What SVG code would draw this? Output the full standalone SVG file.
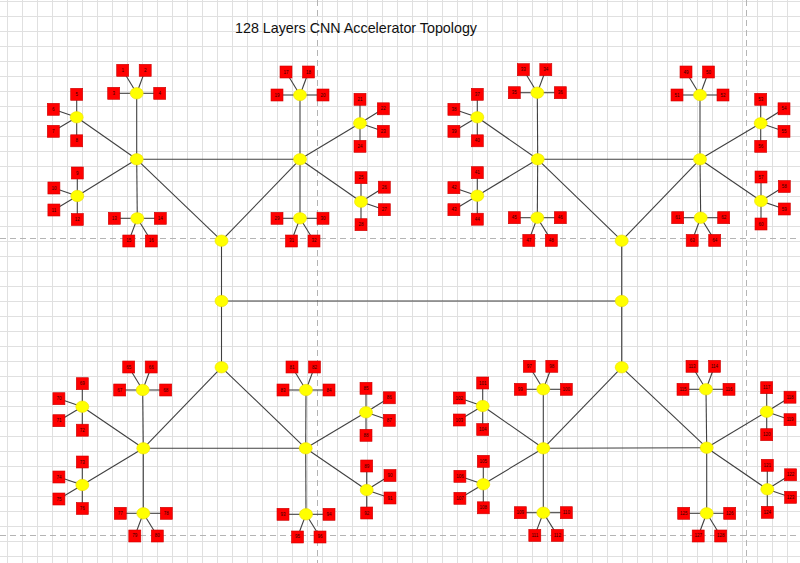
<svg xmlns="http://www.w3.org/2000/svg" xmlns:xlink="http://www.w3.org/1999/xlink" width="800" height="563" viewBox="0 0 800 563">
<style>
.y{fill:#ffff00;stroke:#eedd00;stroke-width:0.6}
.r{fill:#ff0000;stroke:#cc0000;stroke-width:0.6}
text.n{font-family:"Liberation Sans",Arial,sans-serif;font-size:4.5px;text-anchor:middle;fill:#330000}
.ln line{stroke:#404040;stroke-width:1.1;fill:none}
.pg{stroke:#b4b4b4;stroke-width:1;stroke-dasharray:6 4}
</style>
<defs>
<pattern id="grid" width="15" height="15" patternUnits="userSpaceOnUse" x="7" y="1">
<path d="M0.5 0 V15 M0 0.5 H15" stroke="#e0e0e0" stroke-width="1" fill="none"/>
</pattern>
<g id="spT" stroke="#404040" stroke-width="1.1"><line x2="-14" y2="-23"/><line x2="8.5" y2="-23"/><line x2="-23" y2="0"/><line x2="23" y2="0"/></g>
<g id="spB" stroke="#404040" stroke-width="1.1"><line x2="-23" y2="0"/><line x2="23" y2="0"/><line x2="-8.5" y2="22.7"/><line x2="14" y2="22.7"/></g>
<g id="spL" stroke="#404040" stroke-width="1.1"><line x2="0" y2="-23"/><line x2="-23.4" y2="-8"/><line x2="-23.4" y2="14"/><line x2="0" y2="23.5"/></g>
<g id="spR" stroke="#404040" stroke-width="1.1"><line x2="0" y2="-24"/><line x2="23.3" y2="-14.5"/><line x2="23.3" y2="8"/><line x2="0" y2="23"/></g>
</defs>
<rect width="800" height="563" fill="#ffffff"/>
<rect width="800" height="563" fill="url(#grid)"/>
<g id="page-breaks">
<line class="pg" x1="317.5" y1="0" x2="317.5" y2="563"/>
<line class="pg" x1="746.5" y1="0" x2="746.5" y2="563"/>
<line class="pg" x1="0" y1="238.5" x2="800" y2="238.5"/>
<line class="pg" x1="0" y1="535.5" x2="800" y2="535.5"/>
</g>
<text id="title" x="235" y="33" font-family="Liberation Sans, Arial, sans-serif" font-size="15" fill="#111" textLength="242" lengthAdjust="spacingAndGlyphs">128 Layers CNN Accelerator Topology</text>

<g id="connectors" class="ln">
<line x1="221.5" y1="240.7" x2="221.5" y2="367.3"/>
<line x1="621.7" y1="240.7" x2="621.7" y2="367.3"/>
<line x1="221.5" y1="301" x2="621.7" y2="301"/>
<line x1="136.7" y1="159.3" x2="300" y2="159.3"/>
<line x1="136.7" y1="159.3" x2="221.5" y2="240.7"/>
<line x1="300" y1="159.3" x2="221.5" y2="240.7"/>
<line x1="537.7" y1="159.3" x2="700" y2="159.3"/>
<line x1="537.7" y1="159.3" x2="621.7" y2="240.7"/>
<line x1="700" y1="159.3" x2="621.7" y2="240.7"/>
<line x1="143.3" y1="448.3" x2="305.7" y2="448.3"/>
<line x1="221.5" y1="367.3" x2="143.3" y2="448.3"/>
<line x1="221.5" y1="367.3" x2="305.7" y2="448.3"/>
<line x1="543.3" y1="448.3" x2="706.7" y2="447.7"/>
<line x1="621.7" y1="367.3" x2="543.3" y2="448.3"/>
<line x1="621.7" y1="367.3" x2="706.7" y2="447.7"/>
<line x1="136.7" y1="159.3" x2="136.7" y2="93.3"/><line x1="136.7" y1="159.3" x2="137.3" y2="218.3"/><line x1="136.7" y1="159.3" x2="76.7" y2="117.3"/><line x1="136.7" y1="159.3" x2="77.3" y2="196"/>
<line x1="300" y1="159.3" x2="300" y2="95"/><line x1="300" y1="159.3" x2="300" y2="218.3"/><line x1="300" y1="159.3" x2="360" y2="123.3"/><line x1="300" y1="159.3" x2="361" y2="201.7"/>
<line x1="537.7" y1="159.3" x2="537.3" y2="92.7"/><line x1="537.7" y1="159.3" x2="537.3" y2="217.7"/><line x1="537.7" y1="159.3" x2="477.3" y2="117.3"/><line x1="537.7" y1="159.3" x2="477.3" y2="195.7"/>
<line x1="700" y1="159.3" x2="700" y2="95"/><line x1="700" y1="159.3" x2="700.7" y2="217.7"/><line x1="700" y1="159.3" x2="760.7" y2="123.3"/><line x1="700" y1="159.3" x2="761" y2="201"/>
<line x1="143.3" y1="448.3" x2="142.7" y2="390"/><line x1="143.3" y1="448.3" x2="143.3" y2="513.3"/><line x1="143.3" y1="448.3" x2="82.3" y2="406.7"/><line x1="143.3" y1="448.3" x2="82.3" y2="485"/>
<line x1="305.7" y1="448.3" x2="306" y2="390"/><line x1="305.7" y1="448.3" x2="306" y2="514.3"/><line x1="305.7" y1="448.3" x2="366" y2="412.3"/><line x1="305.7" y1="448.3" x2="366.7" y2="490"/>
<line x1="543.3" y1="448.3" x2="543.3" y2="389.3"/><line x1="543.3" y1="448.3" x2="543.3" y2="512.7"/><line x1="543.3" y1="448.3" x2="482.7" y2="406"/><line x1="543.3" y1="448.3" x2="483.3" y2="484.3"/>
<line x1="706.7" y1="447.7" x2="706" y2="389.3"/><line x1="706.7" y1="447.7" x2="706.7" y2="513.3"/><line x1="706.7" y1="447.7" x2="766.7" y2="411.7"/><line x1="706.7" y1="447.7" x2="767.3" y2="489.3"/>
<use xlink:href="#spT" href="#spT" x="136.7" y="93.3"/><use xlink:href="#spL" href="#spL" x="76.7" y="117.3"/><use xlink:href="#spL" href="#spL" x="77.3" y="196"/><use xlink:href="#spB" href="#spB" x="137.3" y="218.3"/>
<use xlink:href="#spT" href="#spT" x="300" y="95"/><use xlink:href="#spR" href="#spR" x="360" y="123.3"/><use xlink:href="#spR" href="#spR" x="361" y="201.7"/><use xlink:href="#spB" href="#spB" x="300" y="218.3"/>
<use xlink:href="#spT" href="#spT" x="537.3" y="92.7"/><use xlink:href="#spL" href="#spL" x="477.3" y="117.3"/><use xlink:href="#spL" href="#spL" x="477.3" y="195.7"/><use xlink:href="#spB" href="#spB" x="537.3" y="217.7"/>
<use xlink:href="#spT" href="#spT" x="700" y="95"/><use xlink:href="#spR" href="#spR" x="760.7" y="123.3"/><use xlink:href="#spR" href="#spR" x="761" y="201"/><use xlink:href="#spB" href="#spB" x="700.7" y="217.7"/>
<use xlink:href="#spT" href="#spT" x="142.7" y="390"/><use xlink:href="#spL" href="#spL" x="82.3" y="406.7"/><use xlink:href="#spL" href="#spL" x="82.3" y="485"/><use xlink:href="#spB" href="#spB" x="143.3" y="513.3"/>
<use xlink:href="#spT" href="#spT" x="306" y="390"/><use xlink:href="#spR" href="#spR" x="366" y="412.3"/><use xlink:href="#spR" href="#spR" x="366.7" y="490"/><use xlink:href="#spB" href="#spB" x="306" y="514.3"/>
<use xlink:href="#spT" href="#spT" x="543.3" y="389.3"/><use xlink:href="#spL" href="#spL" x="482.7" y="406"/><use xlink:href="#spL" href="#spL" x="483.3" y="484.3"/><use xlink:href="#spB" href="#spB" x="543.3" y="512.7"/>
<use xlink:href="#spT" href="#spT" x="706" y="389.3"/><use xlink:href="#spR" href="#spR" x="766.7" y="411.7"/><use xlink:href="#spR" href="#spR" x="767.3" y="489.3"/><use xlink:href="#spB" href="#spB" x="706.7" y="513.3"/>
</g>

<g id="nodes">
<g id="c1"><ellipse class="y" cx="221.5" cy="240.7" rx="6.5" ry="5.7"/></g>
<g id="c2"><ellipse class="y" cx="221.5" cy="301" rx="6.5" ry="5.7"/></g>
<g id="c3"><ellipse class="y" cx="221.5" cy="367.3" rx="6.5" ry="5.7"/></g>
<g id="c4"><ellipse class="y" cx="621.7" cy="240.7" rx="6.5" ry="5.7"/></g>
<g id="c5"><ellipse class="y" cx="621.7" cy="301" rx="6.5" ry="5.7"/></g>
<g id="c6"><ellipse class="y" cx="621.7" cy="367.3" rx="6.5" ry="5.7"/></g>
<g id="h1"><ellipse class="y" cx="136.7" cy="159.3" rx="6.5" ry="5.7"/></g>
<g id="h2"><ellipse class="y" cx="300" cy="159.3" rx="6.5" ry="5.7"/></g>
<g id="h3"><ellipse class="y" cx="537.7" cy="159.3" rx="6.5" ry="5.7"/></g>
<g id="h4"><ellipse class="y" cx="700" cy="159.3" rx="6.5" ry="5.7"/></g>
<g id="h5"><ellipse class="y" cx="143.3" cy="448.3" rx="6.5" ry="5.7"/></g>
<g id="h6"><ellipse class="y" cx="305.7" cy="448.3" rx="6.5" ry="5.7"/></g>
<g id="h7"><ellipse class="y" cx="543.3" cy="448.3" rx="6.5" ry="5.7"/></g>
<g id="h8"><ellipse class="y" cx="706.7" cy="447.7" rx="6.5" ry="5.7"/></g>

<!-- cluster 1 -->
<g id="h1t" transform="translate(136.7,93.3)"><ellipse class="y" rx="6.5" ry="5.7"/>
<g id="L1"><rect class="r" x="-20" y="-29" width="12" height="12"/><text class="n" x="-14" y="-21.5">1</text></g>
<g id="L2"><rect class="r" x="2.5" y="-29" width="12" height="12"/><text class="n" x="8.5" y="-21.5">2</text></g>
<g id="L3"><rect class="r" x="-29" y="-6" width="12" height="12"/><text class="n" x="-23" y="1.5">3</text></g>
<g id="L4"><rect class="r" x="17" y="-6" width="12" height="12"/><text class="n" x="23" y="1.5">4</text></g></g>
<g id="h1u" transform="translate(76.7,117.3)"><ellipse class="y" rx="6.5" ry="5.7"/>
<g id="L5"><rect class="r" x="-6" y="-29" width="12" height="12"/><text class="n" x="0" y="-21.5">5</text></g>
<g id="L6"><rect class="r" x="-29.4" y="-14" width="12" height="12"/><text class="n" x="-23.4" y="-6.5">6</text></g>
<g id="L7"><rect class="r" x="-29.4" y="8" width="12" height="12"/><text class="n" x="-23.4" y="15.5">7</text></g>
<g id="L8"><rect class="r" x="-6" y="17.5" width="12" height="12"/><text class="n" x="0" y="25">8</text></g></g>
<g id="h1l" transform="translate(77.3,196)"><ellipse class="y" rx="6.5" ry="5.7"/>
<g id="L9"><rect class="r" x="-6" y="-29" width="12" height="12"/><text class="n" x="0" y="-21.5">9</text></g>
<g id="L10"><rect class="r" x="-29.4" y="-14" width="12" height="12"/><text class="n" x="-23.4" y="-6.5">10</text></g>
<g id="L11"><rect class="r" x="-29.4" y="8" width="12" height="12"/><text class="n" x="-23.4" y="15.5">11</text></g>
<g id="L12"><rect class="r" x="-6" y="17.5" width="12" height="12"/><text class="n" x="0" y="25">12</text></g></g>
<g id="h1b" transform="translate(137.3,218.3)"><ellipse class="y" rx="6.5" ry="5.7"/>
<g id="L13"><rect class="r" x="-29" y="-6" width="12" height="12"/><text class="n" x="-23" y="1.5">13</text></g>
<g id="L14"><rect class="r" x="17" y="-6" width="12" height="12"/><text class="n" x="23" y="1.5">14</text></g>
<g id="L15"><rect class="r" x="-14.5" y="16.7" width="12" height="12"/><text class="n" x="-8.5" y="24.2">15</text></g>
<g id="L16"><rect class="r" x="8" y="16.7" width="12" height="12"/><text class="n" x="14" y="24.2">16</text></g></g>

<!-- cluster 2 -->
<g id="h2t" transform="translate(300,95)"><ellipse class="y" rx="6.5" ry="5.7"/>
<g id="L17"><rect class="r" x="-20" y="-29" width="12" height="12"/><text class="n" x="-14" y="-21.5">17</text></g>
<g id="L18"><rect class="r" x="2.5" y="-29" width="12" height="12"/><text class="n" x="8.5" y="-21.5">18</text></g>
<g id="L19"><rect class="r" x="-29" y="-6" width="12" height="12"/><text class="n" x="-23" y="1.5">19</text></g>
<g id="L20"><rect class="r" x="17" y="-6" width="12" height="12"/><text class="n" x="23" y="1.5">20</text></g></g>
<g id="h2u" transform="translate(360,123.3)"><ellipse class="y" rx="6.5" ry="5.7"/>
<g id="L21"><rect class="r" x="-6" y="-30" width="12" height="12"/><text class="n" x="0" y="-22.5">21</text></g>
<g id="L22"><rect class="r" x="17.3" y="-20.5" width="12" height="12"/><text class="n" x="23.3" y="-13">22</text></g>
<g id="L23"><rect class="r" x="17.3" y="2" width="12" height="12"/><text class="n" x="23.3" y="9.5">23</text></g>
<g id="L24"><rect class="r" x="-6" y="17" width="12" height="12"/><text class="n" x="0" y="24.5">24</text></g></g>
<g id="h2l" transform="translate(361,201.7)"><ellipse class="y" rx="6.5" ry="5.7"/>
<g id="L25"><rect class="r" x="-6" y="-30" width="12" height="12"/><text class="n" x="0" y="-22.5">25</text></g>
<g id="L26"><rect class="r" x="17.3" y="-20.5" width="12" height="12"/><text class="n" x="23.3" y="-13">26</text></g>
<g id="L27"><rect class="r" x="17.3" y="2" width="12" height="12"/><text class="n" x="23.3" y="9.5">27</text></g>
<g id="L28"><rect class="r" x="-6" y="17" width="12" height="12"/><text class="n" x="0" y="24.5">28</text></g></g>
<g id="h2b" transform="translate(300,218.3)"><ellipse class="y" rx="6.5" ry="5.7"/>
<g id="L29"><rect class="r" x="-29" y="-6" width="12" height="12"/><text class="n" x="-23" y="1.5">29</text></g>
<g id="L30"><rect class="r" x="17" y="-6" width="12" height="12"/><text class="n" x="23" y="1.5">30</text></g>
<g id="L31"><rect class="r" x="-14.5" y="16.7" width="12" height="12"/><text class="n" x="-8.5" y="24.2">31</text></g>
<g id="L32"><rect class="r" x="8" y="16.7" width="12" height="12"/><text class="n" x="14" y="24.2">32</text></g></g>

<!-- cluster 3 -->
<g id="h3t" transform="translate(537.3,92.7)"><ellipse class="y" rx="6.5" ry="5.7"/>
<g id="L33"><rect class="r" x="-20" y="-29" width="12" height="12"/><text class="n" x="-14" y="-21.5">33</text></g>
<g id="L34"><rect class="r" x="2.5" y="-29" width="12" height="12"/><text class="n" x="8.5" y="-21.5">34</text></g>
<g id="L35"><rect class="r" x="-29" y="-6" width="12" height="12"/><text class="n" x="-23" y="1.5">35</text></g>
<g id="L36"><rect class="r" x="17" y="-6" width="12" height="12"/><text class="n" x="23" y="1.5">36</text></g></g>
<g id="h3u" transform="translate(477.3,117.3)"><ellipse class="y" rx="6.5" ry="5.7"/>
<g id="L37"><rect class="r" x="-6" y="-29" width="12" height="12"/><text class="n" x="0" y="-21.5">37</text></g>
<g id="L38"><rect class="r" x="-29.4" y="-14" width="12" height="12"/><text class="n" x="-23.4" y="-6.5">38</text></g>
<g id="L39"><rect class="r" x="-29.4" y="8" width="12" height="12"/><text class="n" x="-23.4" y="15.5">39</text></g>
<g id="L40"><rect class="r" x="-6" y="17.5" width="12" height="12"/><text class="n" x="0" y="25">40</text></g></g>
<g id="h3l" transform="translate(477.3,195.7)"><ellipse class="y" rx="6.5" ry="5.7"/>
<g id="L41"><rect class="r" x="-6" y="-29" width="12" height="12"/><text class="n" x="0" y="-21.5">41</text></g>
<g id="L42"><rect class="r" x="-29.4" y="-14" width="12" height="12"/><text class="n" x="-23.4" y="-6.5">42</text></g>
<g id="L43"><rect class="r" x="-29.4" y="8" width="12" height="12"/><text class="n" x="-23.4" y="15.5">43</text></g>
<g id="L44"><rect class="r" x="-6" y="17.5" width="12" height="12"/><text class="n" x="0" y="25">44</text></g></g>
<g id="h3b" transform="translate(537.3,217.7)"><ellipse class="y" rx="6.5" ry="5.7"/>
<g id="L45"><rect class="r" x="-29" y="-6" width="12" height="12"/><text class="n" x="-23" y="1.5">45</text></g>
<g id="L46"><rect class="r" x="17" y="-6" width="12" height="12"/><text class="n" x="23" y="1.5">46</text></g>
<g id="L47"><rect class="r" x="-14.5" y="16.7" width="12" height="12"/><text class="n" x="-8.5" y="24.2">47</text></g>
<g id="L48"><rect class="r" x="8" y="16.7" width="12" height="12"/><text class="n" x="14" y="24.2">48</text></g></g>

<!-- cluster 4 -->
<g id="h4t" transform="translate(700,95)"><ellipse class="y" rx="6.5" ry="5.7"/>
<g id="L49"><rect class="r" x="-20" y="-29" width="12" height="12"/><text class="n" x="-14" y="-21.5">49</text></g>
<g id="L50"><rect class="r" x="2.5" y="-29" width="12" height="12"/><text class="n" x="8.5" y="-21.5">50</text></g>
<g id="L51"><rect class="r" x="-29" y="-6" width="12" height="12"/><text class="n" x="-23" y="1.5">51</text></g>
<g id="L52"><rect class="r" x="17" y="-6" width="12" height="12"/><text class="n" x="23" y="1.5">52</text></g></g>
<g id="h4u" transform="translate(760.7,123.3)"><ellipse class="y" rx="6.5" ry="5.7"/>
<g id="L53"><rect class="r" x="-6" y="-30" width="12" height="12"/><text class="n" x="0" y="-22.5">53</text></g>
<g id="L54"><rect class="r" x="17.3" y="-20.5" width="12" height="12"/><text class="n" x="23.3" y="-13">54</text></g>
<g id="L55"><rect class="r" x="17.3" y="2" width="12" height="12"/><text class="n" x="23.3" y="9.5">55</text></g>
<g id="L56"><rect class="r" x="-6" y="17" width="12" height="12"/><text class="n" x="0" y="24.5">56</text></g></g>
<g id="h4l" transform="translate(761,201)"><ellipse class="y" rx="6.5" ry="5.7"/>
<g id="L57"><rect class="r" x="-6" y="-30" width="12" height="12"/><text class="n" x="0" y="-22.5">57</text></g>
<g id="L58"><rect class="r" x="17.3" y="-20.5" width="12" height="12"/><text class="n" x="23.3" y="-13">58</text></g>
<g id="L59"><rect class="r" x="17.3" y="2" width="12" height="12"/><text class="n" x="23.3" y="9.5">59</text></g>
<g id="L60"><rect class="r" x="-6" y="17" width="12" height="12"/><text class="n" x="0" y="24.5">60</text></g></g>
<g id="h4b" transform="translate(700.7,217.7)"><ellipse class="y" rx="6.5" ry="5.7"/>
<g id="L61"><rect class="r" x="-29" y="-6" width="12" height="12"/><text class="n" x="-23" y="1.5">61</text></g>
<g id="L62"><rect class="r" x="17" y="-6" width="12" height="12"/><text class="n" x="23" y="1.5">62</text></g>
<g id="L63"><rect class="r" x="-14.5" y="16.7" width="12" height="12"/><text class="n" x="-8.5" y="24.2">63</text></g>
<g id="L64"><rect class="r" x="8" y="16.7" width="12" height="12"/><text class="n" x="14" y="24.2">64</text></g></g>

<!-- cluster 5 -->
<g id="h5t" transform="translate(142.7,390)"><ellipse class="y" rx="6.5" ry="5.7"/>
<g id="L65"><rect class="r" x="-20" y="-29" width="12" height="12"/><text class="n" x="-14" y="-21.5">65</text></g>
<g id="L66"><rect class="r" x="2.5" y="-29" width="12" height="12"/><text class="n" x="8.5" y="-21.5">66</text></g>
<g id="L67"><rect class="r" x="-29" y="-6" width="12" height="12"/><text class="n" x="-23" y="1.5">67</text></g>
<g id="L68"><rect class="r" x="17" y="-6" width="12" height="12"/><text class="n" x="23" y="1.5">68</text></g></g>
<g id="h5u" transform="translate(82.3,406.7)"><ellipse class="y" rx="6.5" ry="5.7"/>
<g id="L69"><rect class="r" x="-6" y="-29" width="12" height="12"/><text class="n" x="0" y="-21.5">69</text></g>
<g id="L70"><rect class="r" x="-29.4" y="-14" width="12" height="12"/><text class="n" x="-23.4" y="-6.5">70</text></g>
<g id="L71"><rect class="r" x="-29.4" y="8" width="12" height="12"/><text class="n" x="-23.4" y="15.5">71</text></g>
<g id="L72"><rect class="r" x="-6" y="17.5" width="12" height="12"/><text class="n" x="0" y="25">72</text></g></g>
<g id="h5l" transform="translate(82.3,485)"><ellipse class="y" rx="6.5" ry="5.7"/>
<g id="L73"><rect class="r" x="-6" y="-29" width="12" height="12"/><text class="n" x="0" y="-21.5">73</text></g>
<g id="L74"><rect class="r" x="-29.4" y="-14" width="12" height="12"/><text class="n" x="-23.4" y="-6.5">74</text></g>
<g id="L75"><rect class="r" x="-29.4" y="8" width="12" height="12"/><text class="n" x="-23.4" y="15.5">75</text></g>
<g id="L76"><rect class="r" x="-6" y="17.5" width="12" height="12"/><text class="n" x="0" y="25">76</text></g></g>
<g id="h5b" transform="translate(143.3,513.3)"><ellipse class="y" rx="6.5" ry="5.7"/>
<g id="L77"><rect class="r" x="-29" y="-6" width="12" height="12"/><text class="n" x="-23" y="1.5">77</text></g>
<g id="L78"><rect class="r" x="17" y="-6" width="12" height="12"/><text class="n" x="23" y="1.5">78</text></g>
<g id="L79"><rect class="r" x="-14.5" y="16.7" width="12" height="12"/><text class="n" x="-8.5" y="24.2">79</text></g>
<g id="L80"><rect class="r" x="8" y="16.7" width="12" height="12"/><text class="n" x="14" y="24.2">80</text></g></g>

<!-- cluster 6 -->
<g id="h6t" transform="translate(306,390)"><ellipse class="y" rx="6.5" ry="5.7"/>
<g id="L81"><rect class="r" x="-20" y="-29" width="12" height="12"/><text class="n" x="-14" y="-21.5">81</text></g>
<g id="L82"><rect class="r" x="2.5" y="-29" width="12" height="12"/><text class="n" x="8.5" y="-21.5">82</text></g>
<g id="L83"><rect class="r" x="-29" y="-6" width="12" height="12"/><text class="n" x="-23" y="1.5">83</text></g>
<g id="L84"><rect class="r" x="17" y="-6" width="12" height="12"/><text class="n" x="23" y="1.5">84</text></g></g>
<g id="h6u" transform="translate(366,412.3)"><ellipse class="y" rx="6.5" ry="5.7"/>
<g id="L85"><rect class="r" x="-6" y="-30" width="12" height="12"/><text class="n" x="0" y="-22.5">85</text></g>
<g id="L86"><rect class="r" x="17.3" y="-20.5" width="12" height="12"/><text class="n" x="23.3" y="-13">86</text></g>
<g id="L87"><rect class="r" x="17.3" y="2" width="12" height="12"/><text class="n" x="23.3" y="9.5">87</text></g>
<g id="L88"><rect class="r" x="-6" y="17" width="12" height="12"/><text class="n" x="0" y="24.5">88</text></g></g>
<g id="h6l" transform="translate(366.7,490)"><ellipse class="y" rx="6.5" ry="5.7"/>
<g id="L89"><rect class="r" x="-6" y="-30" width="12" height="12"/><text class="n" x="0" y="-22.5">89</text></g>
<g id="L90"><rect class="r" x="17.3" y="-20.5" width="12" height="12"/><text class="n" x="23.3" y="-13">90</text></g>
<g id="L91"><rect class="r" x="17.3" y="2" width="12" height="12"/><text class="n" x="23.3" y="9.5">91</text></g>
<g id="L92"><rect class="r" x="-6" y="17" width="12" height="12"/><text class="n" x="0" y="24.5">92</text></g></g>
<g id="h6b" transform="translate(306,514.3)"><ellipse class="y" rx="6.5" ry="5.7"/>
<g id="L93"><rect class="r" x="-29" y="-6" width="12" height="12"/><text class="n" x="-23" y="1.5">93</text></g>
<g id="L94"><rect class="r" x="17" y="-6" width="12" height="12"/><text class="n" x="23" y="1.5">94</text></g>
<g id="L95"><rect class="r" x="-14.5" y="16.7" width="12" height="12"/><text class="n" x="-8.5" y="24.2">95</text></g>
<g id="L96"><rect class="r" x="8" y="16.7" width="12" height="12"/><text class="n" x="14" y="24.2">96</text></g></g>

<!-- cluster 7 -->
<g id="h7t" transform="translate(543.3,389.3)"><ellipse class="y" rx="6.5" ry="5.7"/>
<g id="L97"><rect class="r" x="-20" y="-29" width="12" height="12"/><text class="n" x="-14" y="-21.5">97</text></g>
<g id="L98"><rect class="r" x="2.5" y="-29" width="12" height="12"/><text class="n" x="8.5" y="-21.5">98</text></g>
<g id="L99"><rect class="r" x="-29" y="-6" width="12" height="12"/><text class="n" x="-23" y="1.5">99</text></g>
<g id="L100"><rect class="r" x="17" y="-6" width="12" height="12"/><text class="n" x="23" y="1.5">100</text></g></g>
<g id="h7u" transform="translate(482.7,406)"><ellipse class="y" rx="6.5" ry="5.7"/>
<g id="L101"><rect class="r" x="-6" y="-29" width="12" height="12"/><text class="n" x="0" y="-21.5">101</text></g>
<g id="L102"><rect class="r" x="-29.4" y="-14" width="12" height="12"/><text class="n" x="-23.4" y="-6.5">102</text></g>
<g id="L103"><rect class="r" x="-29.4" y="8" width="12" height="12"/><text class="n" x="-23.4" y="15.5">103</text></g>
<g id="L104"><rect class="r" x="-6" y="17.5" width="12" height="12"/><text class="n" x="0" y="25">104</text></g></g>
<g id="h7l" transform="translate(483.3,484.3)"><ellipse class="y" rx="6.5" ry="5.7"/>
<g id="L105"><rect class="r" x="-6" y="-29" width="12" height="12"/><text class="n" x="0" y="-21.5">105</text></g>
<g id="L106"><rect class="r" x="-29.4" y="-14" width="12" height="12"/><text class="n" x="-23.4" y="-6.5">106</text></g>
<g id="L107"><rect class="r" x="-29.4" y="8" width="12" height="12"/><text class="n" x="-23.4" y="15.5">107</text></g>
<g id="L108"><rect class="r" x="-6" y="17.5" width="12" height="12"/><text class="n" x="0" y="25">108</text></g></g>
<g id="h7b" transform="translate(543.3,512.7)"><ellipse class="y" rx="6.5" ry="5.7"/>
<g id="L109"><rect class="r" x="-29" y="-6" width="12" height="12"/><text class="n" x="-23" y="1.5">109</text></g>
<g id="L110"><rect class="r" x="17" y="-6" width="12" height="12"/><text class="n" x="23" y="1.5">110</text></g>
<g id="L111"><rect class="r" x="-14.5" y="16.7" width="12" height="12"/><text class="n" x="-8.5" y="24.2">111</text></g>
<g id="L112"><rect class="r" x="8" y="16.7" width="12" height="12"/><text class="n" x="14" y="24.2">112</text></g></g>

<!-- cluster 8 -->
<g id="h8t" transform="translate(706,389.3)"><ellipse class="y" rx="6.5" ry="5.7"/>
<g id="L113"><rect class="r" x="-20" y="-29" width="12" height="12"/><text class="n" x="-14" y="-21.5">113</text></g>
<g id="L114"><rect class="r" x="2.5" y="-29" width="12" height="12"/><text class="n" x="8.5" y="-21.5">114</text></g>
<g id="L115"><rect class="r" x="-29" y="-6" width="12" height="12"/><text class="n" x="-23" y="1.5">115</text></g>
<g id="L116"><rect class="r" x="17" y="-6" width="12" height="12"/><text class="n" x="23" y="1.5">116</text></g></g>
<g id="h8u" transform="translate(766.7,411.7)"><ellipse class="y" rx="6.5" ry="5.7"/>
<g id="L117"><rect class="r" x="-6" y="-30" width="12" height="12"/><text class="n" x="0" y="-22.5">117</text></g>
<g id="L118"><rect class="r" x="17.3" y="-20.5" width="12" height="12"/><text class="n" x="23.3" y="-13">118</text></g>
<g id="L119"><rect class="r" x="17.3" y="2" width="12" height="12"/><text class="n" x="23.3" y="9.5">119</text></g>
<g id="L120"><rect class="r" x="-6" y="17" width="12" height="12"/><text class="n" x="0" y="24.5">120</text></g></g>
<g id="h8l" transform="translate(767.3,489.3)"><ellipse class="y" rx="6.5" ry="5.7"/>
<g id="L121"><rect class="r" x="-6" y="-30" width="12" height="12"/><text class="n" x="0" y="-22.5">121</text></g>
<g id="L122"><rect class="r" x="17.3" y="-20.5" width="12" height="12"/><text class="n" x="23.3" y="-13">122</text></g>
<g id="L123"><rect class="r" x="17.3" y="2" width="12" height="12"/><text class="n" x="23.3" y="9.5">123</text></g>
<g id="L124"><rect class="r" x="-6" y="17" width="12" height="12"/><text class="n" x="0" y="24.5">124</text></g></g>
<g id="h8b" transform="translate(706.7,513.3)"><ellipse class="y" rx="6.5" ry="5.7"/>
<g id="L125"><rect class="r" x="-29" y="-6" width="12" height="12"/><text class="n" x="-23" y="1.5">125</text></g>
<g id="L126"><rect class="r" x="17" y="-6" width="12" height="12"/><text class="n" x="23" y="1.5">126</text></g>
<g id="L127"><rect class="r" x="-14.5" y="16.7" width="12" height="12"/><text class="n" x="-8.5" y="24.2">127</text></g>
<g id="L128"><rect class="r" x="8" y="16.7" width="12" height="12"/><text class="n" x="14" y="24.2">128</text></g></g>
</g>
</svg>
